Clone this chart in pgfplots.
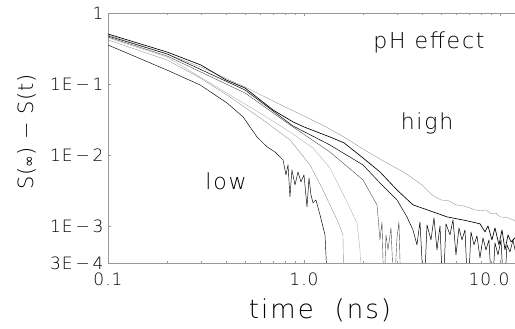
\documentclass[border=0pt]{standalone}
\usepackage{fontspec}
\setmainfont{DejaVu Sans ExtraLight}
\newfontfamily\symf{DejaVu Sans}
\usepackage{pgfplots}
\pgfplotsset{compat=1.18}
\definecolor{gA}{gray}{0.6}
\definecolor{gB}{gray}{0.3}
\definecolor{gC}{gray}{0.7}
\definecolor{axg}{gray}{0.6}
\begin{document}
\begin{tikzpicture}[x=1pt,y=1pt]
\path[use as bounding box] (0,0) rectangle (515,329);
\begin{axis}[
  at={(108pt,66pt)}, anchor=south west,
  scale only axis, width=407pt, height=250pt,
  xmode=log, ymode=log,
  xmin=0.1, xmax=11.93, ymin=3e-4, ymax=1,
  axis x line=box, axis y line=left,
  axis line style={axg, line width=0.7pt, -},
  xtick={0.1,1,10}, xticklabels={0.1,1.0,{10.0\hspace*{22pt}}},
  ytick={3e-4,1e-3,1e-2,1e-1,1},
  yticklabels={3E\,−\,4,1E\,−\,3,1E\,−\,2,1E\,−\,1,1},
  minor xtick={0.2,0.3,0.4,0.5,0.6,0.7,0.8,0.9,2,3,4,5,6,7,8,9},
  minor ytick={},
  major tick length=3pt, minor tick length=2pt,
  every tick/.style={axg, line width=0.5pt},
  tick align=inside,
  ticklabel style={font=\fontsize{17}{17}\selectfont\addfontfeatures{LetterSpace=6}, text=black},
  xticklabel style={yshift=-6pt},
  yticklabel style={xshift=-1pt},
  clip=true,
  every axis plot/.append style={line join=round},
]
% curve 1 (top, grey)
\addplot[gA, line width=0.4pt] coordinates {
(0.1,0.490)(0.149,0.343)(0.200,0.265)(0.298,0.173)(0.500,0.0907)(0.800,0.0474)
(1.000,0.0354)(1.295,0.0248)(1.600,0.0179)(2.000,0.0121)(2.590,0.00797)(3.276,0.00558)
(4.000,0.00378)(4.499,0.00273)(5.000,0.00232)(5.493,0.00225)(5.964,0.00198)(6.475,0.00192)
(7.029,0.00179)(7.455,0.00168)(8.000,0.00163)(8.483,0.00168)(8.995,0.00148)(9.541,0.00152)
(10.0,0.00134)(10.99,0.00130)(11.93,0.00118)};
% curve 2 (black)
\addplot[black, line width=0.65pt] coordinates {
(0.1,0.506)(0.2,0.282)(0.298,0.185)(0.4,0.114)(0.5,0.0878)(0.695,0.0430)(0.879,0.0292)
(1.0,0.0248)(1.357,0.0179)(1.6,0.0148)(2.0,0.00907)(2.442,0.00576)(2.982,0.00321)
(3.598,0.00198)(4.395,0.00163)(5.366,0.00134)(6.786,0.00118)(7.907,0.00107)
(8.385,0.000823)(8.684,0.00100)(9.103,0.000635)(9.430,0.000937)(9.883,0.000540)
(10.24,0.000878)(10.61,0.000459)(10.99,0.000747)(11.38,0.000595)(11.93,0.000678)};
% curve 3 (black, noisy at long times)
\addplot[black, line width=0.5pt] coordinates {
(0.1,0.474)(0.2,0.265)(0.5,0.0823)(0.879,0.0256)(1.357,0.0138)(2.0,0.00723)
(2.442,0.00403)(2.982,0.00232)(3.353,0.00134)(3.598,0.000878)(3.771,0.000540)
(3.906,0.00114)(4.095,0.0001)(4.243,0.00103)(4.446,0.000635)(4.606,0.00130)
(4.771,0.000459)(4.943,0.00100)(5.119,0.0001)(5.303,0.00107)(5.558,0.000747)
(5.757,0.00122)(5.964,0.000391)(6.178,0.000937)(6.400,0.000635)(6.629,0.000878)
(6.866,0.0001)(7.112,0.000823)(7.368,0.000540)(7.632,0.000723)(7.907,0.000354)
(8.190,0.000678)(8.483,0.000459)(8.787,0.000635)(9.103,0.0001)(9.430,0.000576)
(9.768,0.000391)(10.12,0.000635)(10.48,0.0001)(10.86,0.000540)(11.25,0.000430)
(11.65,0.000635)(11.93,0.000459)};
% curve 4
\addplot[gB, line width=0.4pt] coordinates {
(0.1,0.459)(0.2,0.248)(0.5,0.0747)(0.848,0.0265)(1.357,0.0110)(2.0,0.00445)
(2.358,0.00198)(2.442,0.000635)(2.5,0.00114)(2.56,0.0001)(2.62,0.000747)
(2.683,0.000459)(2.779,0.000937)(2.879,0.0001)(2.982,0.000678)(3.052,0.00114)(3.125,0.0001)};
% curve 5
\addplot[gC, line width=0.4pt] coordinates {
(0.1,0.445)(0.2,0.240)(0.419,0.0700)(0.618,0.0366)(0.848,0.0211)(1.112,0.0125)
(1.357,0.00656)(1.619,0.00248)(1.864,0.00110)(1.931,0.000459)(1.977,0.0001)};
% curve 6
\addplot[gA, line width=0.4pt] coordinates {
(0.1,0.417)(0.2,0.218)(0.295,0.122)(0.419,0.0656)(0.618,0.0311)(0.848,0.0163)
(1.073,0.00723)(1.235,0.00343)(1.357,0.00198)(1.491,0.00114)(1.581,0.000747)(1.6,0.0001)};
% curve 7 (low, noisy)
\addplot[black, line width=0.45pt] coordinates {
(0.1,0.354)(0.2,0.157)(0.295,0.0969)(0.405,0.0540)(0.489,0.0343)(0.576,0.0179)
(0.648,0.0130)(0.711,0.0110)(0.782,0.00851)(0.809,0.00523)(0.829,0.00723)
(0.848,0.00256)(0.868,0.00615)(0.900,0.00378)(0.932,0.00576)(0.965,0.00417)
(1.000,0.00523)(1.036,0.00185)(1.061,0.00474)(1.086,0.00273)(1.112,0.00211)
(1.151,0.00232)(1.207,0.00143)(1.280,0.000747)(1.326,0.0001)};
\end{axis}
\begin{scope}[every node/.style={text=black, inner sep=0pt}]
\node[font=\fontsize{22}{22}\selectfont\addfontfeatures{LetterSpace=8}] at (429,287) {pH effect};
\node[font=\fontsize{22}{22}\selectfont\addfontfeatures{LetterSpace=8}] at (427,206) {high};
\node[font=\fontsize{22}{22}\selectfont\addfontfeatures{LetterSpace=8}] at (226,148) {low};
\node[font=\fontsize{26}{26}\selectfont\addfontfeatures{LetterSpace=8}] at (320,19) {time\ \ (ns)};
\node[rotate=90, font=\fontsize{21}{21}\selectfont\addfontfeatures{LetterSpace=4}] at (27,197) {S({\symf\fontsize{14}{14}\selectfont ∞})\ −\ S(t)};
\end{scope}
\end{tikzpicture}
\end{document}
